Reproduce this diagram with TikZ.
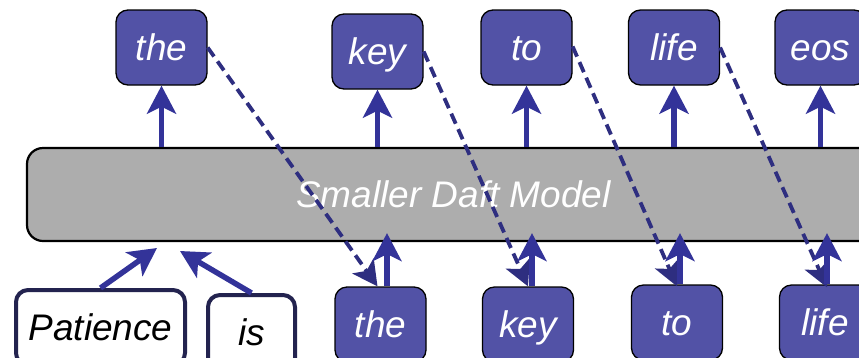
\documentclass[tikz,border=0pt]{standalone}
\usepackage{fontspec}
\setmainfont[Ligatures={NoCommon}]{Liberation Sans}
\usetikzlibrary{arrows.meta}
\definecolor{tokfill}{HTML}{5252A6}
\definecolor{arrowblue}{HTML}{333399}
\definecolor{dashblue}{HTML}{2E2E80}
\definecolor{inborder}{HTML}{23234F}
\definecolor{modelgray}{HTML}{ADADAD}
\tikzset{
  tok/.style={draw=black, line width=1.3pt, fill=tokfill, rounded corners=12pt,
    minimum width=91pt, minimum height=75pt, inner sep=0pt,
    text=white, font=\fontsize{37}{42}\selectfont\itshape,
    text height=31pt, text depth=6pt},
  inbox/.style={draw=inborder, line width=4pt, fill=white, rounded corners=12pt,
    minimum height=75pt, inner sep=0pt,
    text=black, font=\fontsize{37}{42}\selectfont\itshape,
    text height=31pt, text depth=6pt},
  model/.style={draw=black, line width=2.2pt, fill=modelgray, rounded corners=16pt,
    minimum width=853pt, minimum height=93pt, inner sep=0pt,
    text=white, font=\fontsize{37}{42}\selectfont\itshape,
    text height=31pt, text depth=6pt},
  uparrow/.style={draw=arrowblue, line width=5.5pt,
    -{Stealth[length=28pt,width=29pt,inset=7pt]}},
  feedback/.style={draw=dashblue, line width=3.8pt, dash pattern=on 11pt off 6pt,
    -{Stealth[length=25pt,width=26pt,inset=6pt]}},
}
\begin{document}
\begin{tikzpicture}[x=1pt,y=-1pt]
\useasboundingbox (0,0) rectangle (859,357);
\clip (0,0) rectangle (859,357);

% the model
\node[model] (model) at (453.5,194.5) {Smaller Daft Model};

% generated tokens (top row)
\node[tok] (t1) at (161.5,47.5) {the};
\node[tok] (t2) at (377.5,51.5) {key};
\node[tok] (t3) at (526.5,47.5) {to};
\node[tok] (t4) at (674,47.5) {life};
\node[tok] (t5) at (820.5,47.5) {eos};

% tokens fed back in (bottom row)
\node[tok] (b1) at (380.5,324.5) {the};
\node[tok] (b2) at (528,324.5) {key};
\node[tok] (b3) at (677,322.5) {to};
\node[tok] (b4) at (825,322.5) {life};

% prompt tokens
\node[inbox, minimum width=169pt] (p) at (100.5,327.5) {Patience};
\node[inbox, minimum width=87pt] (is) at (251.5,332.5) {is};

\coordinate (in1) at (157,248);
\coordinate (in2) at (180,251);

% outputs of the model
\foreach \t in {t1,t2,t3,t4,t5}
  \draw[uparrow] (\t.south |- model.north) -- (\t.south);

% prompt into the model
\draw[uparrow] (p.north) -- (in1);
\draw[uparrow] (is.north) -- (in2);

% each output becomes the next input
\draw[feedback] (t1.east) -- ([xshift=-3pt]b1.north);
\draw[feedback] (t2.east) -- (b2.north);
\draw[feedback] ([yshift=1pt]t3.east) -- ([yshift=-2pt]b3.north);
\draw[feedback] (t4.east) -- ([xshift=2pt,yshift=-3pt]b4.north);

% inputs into the model
\draw[uparrow, shorten >=-9pt] ([xshift=6.5pt]b1.north) -- ([xshift=6.5pt]b1.north |- model.south);
\draw[uparrow, shorten >=-9pt] ([xshift=4pt]b2.north) -- ([xshift=4pt]b2.north |- model.south);
\draw[uparrow, shorten >=-9pt] ([xshift=3pt]b3.north) -- ([xshift=3pt]b3.north |- model.south);
\draw[uparrow, shorten >=-9pt] ([xshift=2pt]b4.north) -- ([xshift=2pt]b4.north |- model.south);
\end{tikzpicture}
\end{document}
